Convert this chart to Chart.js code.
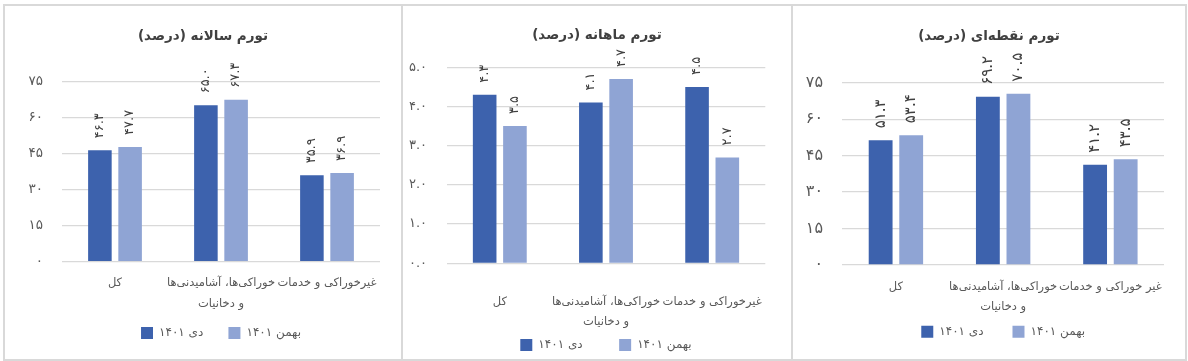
<!DOCTYPE html>
<html>
<head>
<meta charset="utf-8">
<script src="https://cdn.jsdelivr.net/npm/chart.js@4.4.1/dist/chart.umd.min.js"></script>
<style>
    body {
        margin: 0;
        width: 1188px;
        height: 361px;
        overflow: hidden;
        position: relative;
        background: #fff;
        font-family: "DejaVu Sans", sans-serif;
    }
    .panel {
        position: absolute;
        top: 4px;
        height: 357px;
        border: 2px solid #d9d9d9;
        box-sizing: border-box;
        background: #fff;
    }
    .panel canvas {
        position: absolute;
        left: 0;
        top: 0;
    }
</style>
</head>
<body>

<div class="panel" style="left:3px; width:400px;">
    <canvas id="annualChart" dir="rtl" width="396" height="353"></canvas>
</div>
<div class="panel" style="left:401px; width:392px;">
    <canvas id="monthlyChart" dir="rtl" width="388" height="353"></canvas>
</div>
<div class="panel" style="left:791px; width:396px;">
    <canvas id="pointChart" dir="rtl" width="392" height="353"></canvas>
</div>

<script>
// ===========================
// DATA
// ===========================

const seriesNames = ["دی ۱۴۰۱", "بهمن ۱۴۰۱"];

const categories = ["کل", ["خوراکی‌ها، آشامیدنی‌ها", "و دخانیات"], "غیرخوراکی و خدمات"];
const categoriesPoint = ["کل", ["خوراکی‌ها، آشامیدنی‌ها", "و دخانیات"], "غیر خوراکی و خدمات"];

const annualDey = [46.3, 65.0, 35.9];
const annualBahman = [47.7, 67.3, 36.9];

const monthlyDey = [4.3, 4.1, 4.5];
const monthlyBahman = [3.5, 4.7, 2.7];

const pointDey = [51.3, 69.2, 41.2];
const pointBahman = [53.4, 70.5, 43.5];

// ===========================
// HELPER
// ===========================

const FONT = "DejaVu Sans";
const DEY_COLOR = "#3d62ad";
const BAHMAN_COLOR = "#8fa4d4";
const LEGEND_PAD = 6;

function toFa(text) {
    return String(text).replace(/\d/g, d => "۰۱۲۳۴۵۶۷۸۹"[d]);
}

// rotated value labels above each bar
const valueLabels = {
    id: "valueLabels",
    afterDatasetsDraw(chart, args, opts) {
        const ctx = chart.ctx;
        ctx.save();
        ctx.fillStyle = "#404040";
        ctx.font = opts.size + "px \"" + FONT + "\"";
        ctx.textAlign = "left";
        ctx.textBaseline = "middle";
        chart.data.datasets.forEach((ds, i) => {
            chart.getDatasetMeta(i).data.forEach((bar, j) => {
                ctx.save();
                ctx.translate(bar.x, bar.y - opts.gap);
                ctx.rotate(-Math.PI / 2);
                ctx.fillText(toFa(ds.data[j].toFixed(1)), 0, 0);
                ctx.restore();
            });
        });
        ctx.restore();
    }
};

// title centred on the whole panel, not on the padded area
const centerTitle = {
    id: "centerTitle",
    afterLayout(chart) {
        const block = chart.titleBlock;
        if (block) {
            block.left = 0;
            block.right = chart.width;
        }
    }
};

// ===========================
// CHART
// ===========================

function buildChart(canvasId, spec) {
    const titleLine = spec.titleSize * 1.2;
    const padTop = spec.titleY - titleLine / 2;
    // legend item centre sits LEGEND_PAD + 6 below the legend top
    const legendTop = spec.legendY - LEGEND_PAD - 6;
    const legendBottom = legendTop + 22 + LEGEND_PAD;
    const catLine = spec.catSize * 1.8;

    return new Chart(document.getElementById(canvasId), {
        type: "bar",
        data: {
            labels: spec.labels,
            datasets: [
                {
                    label: seriesNames[0],
                    data: spec.dey,
                    backgroundColor: DEY_COLOR,
                    borderWidth: 0,
                    categoryPercentage: 0.57,
                    barPercentage: 0.78
                },
                {
                    label: seriesNames[1],
                    data: spec.bahman,
                    backgroundColor: BAHMAN_COLOR,
                    borderWidth: 0,
                    categoryPercentage: 0.57,
                    barPercentage: 0.78
                }
            ]
        },
        options: {
            responsive: false,
            animation: false,
            layout: {
                padding: {
                    left: 2,
                    right: spec.width - spec.plotRight,
                    top: padTop,
                    bottom: spec.height - legendBottom
                }
            },
            plugins: {
                title: {
                    display: true,
                    text: spec.title,
                    color: "#404040",
                    font: { family: FONT, size: spec.titleSize, weight: "bold" },
                    padding: { top: 0, bottom: spec.plotTop - padTop - titleLine }
                },
                legend: {
                    position: "bottom",
                    fullSize: false,
                    textDirection: "ltr",
                    labels: {
                        boxWidth: 12,
                        boxHeight: 12,
                        padding: LEGEND_PAD,
                        color: "#595959",
                        font: { family: FONT, size: 12 },
                        generateLabels(chart) {
                            const items = Chart.defaults.plugins.legend.labels.generateLabels(chart);
                            items.forEach((item, i) => {
                                if (i < items.length - 1) item.text += " ".repeat(spec.legendSpaces);
                            });
                            return items;
                        }
                    }
                },
                tooltip: { enabled: false },
                valueLabels: { size: spec.valueSize, gap: 12 }
            },
            scales: {
                x: {
                    grid: { display: false, drawTicks: false },
                    border: { display: false },
                    ticks: {
                        color: "#595959",
                        font: { family: FONT, size: spec.catSize, lineHeight: 1.8 },
                        padding: spec.labelY - spec.plotBottom - catLine / 2,
                        maxRotation: 0,
                        autoSkip: false
                    },
                    afterFit(scale) {
                        scale.height = legendTop - spec.plotBottom;
                    }
                },
                y: {
                    min: 0,
                    max: spec.max,
                    ticks: {
                        stepSize: spec.step,
                        color: "#595959",
                        font: { family: FONT, size: spec.tickSize },
                        padding: spec.plotLeft - spec.tickRight,
                        callback: v => toFa(v.toFixed(spec.decimals))
                    },
                    grid: { color: "#d9d9d9", lineWidth: 1.3, drawTicks: false },
                    border: { display: false },
                    afterFit(scale) {
                        scale.width = spec.plotLeft - 2;
                    }
                }
            }
        },
        plugins: [valueLabels, centerTitle]
    });
}

buildChart("annualChart", {
    title: "تورم سالانه (درصد)",
    labels: categories,
    dey: annualDey,
    bahman: annualBahman,
    max: 75, step: 15, decimals: 0,
    width: 396, height: 353,
    plotLeft: 57, plotRight: 375, plotTop: 75.3, plotBottom: 255.7,
    tickRight: 38,
    titleY: 30, labelY: 277, legendY: 327,
    titleSize: 13.5, tickSize: 13.5, catSize: 11.5, valueSize: 13,
    legendSpaces: 5
});

buildChart("monthlyChart", {
    title: "تورم ماهانه (درصد)",
    labels: categories,
    dey: monthlyDey,
    bahman: monthlyBahman,
    max: 5, step: 1, decimals: 1,
    width: 388, height: 353,
    plotLeft: 43.7, plotRight: 381, plotTop: 61.3, plotBottom: 257.3,
    tickRight: 24,
    titleY: 29, labelY: 295.7, legendY: 339,
    titleSize: 13.5, tickSize: 13, catSize: 11.5, valueSize: 13,
    legendSpaces: 8
});

buildChart("pointChart", {
    title: "تورم نقطه‌ای (درصد)",
    labels: categoriesPoint,
    dey: pointDey,
    bahman: pointBahman,
    max: 75, step: 15, decimals: 0,
    width: 392, height: 353,
    plotLeft: 49.3, plotRight: 371, plotTop: 76.7, plotBottom: 259,
    tickRight: 30,
    titleY: 30, labelY: 280.7, legendY: 325.7,
    titleSize: 13.5, tickSize: 16, catSize: 11.5, valueSize: 15,
    legendSpaces: 6
});
</script>
</body>
</html>
